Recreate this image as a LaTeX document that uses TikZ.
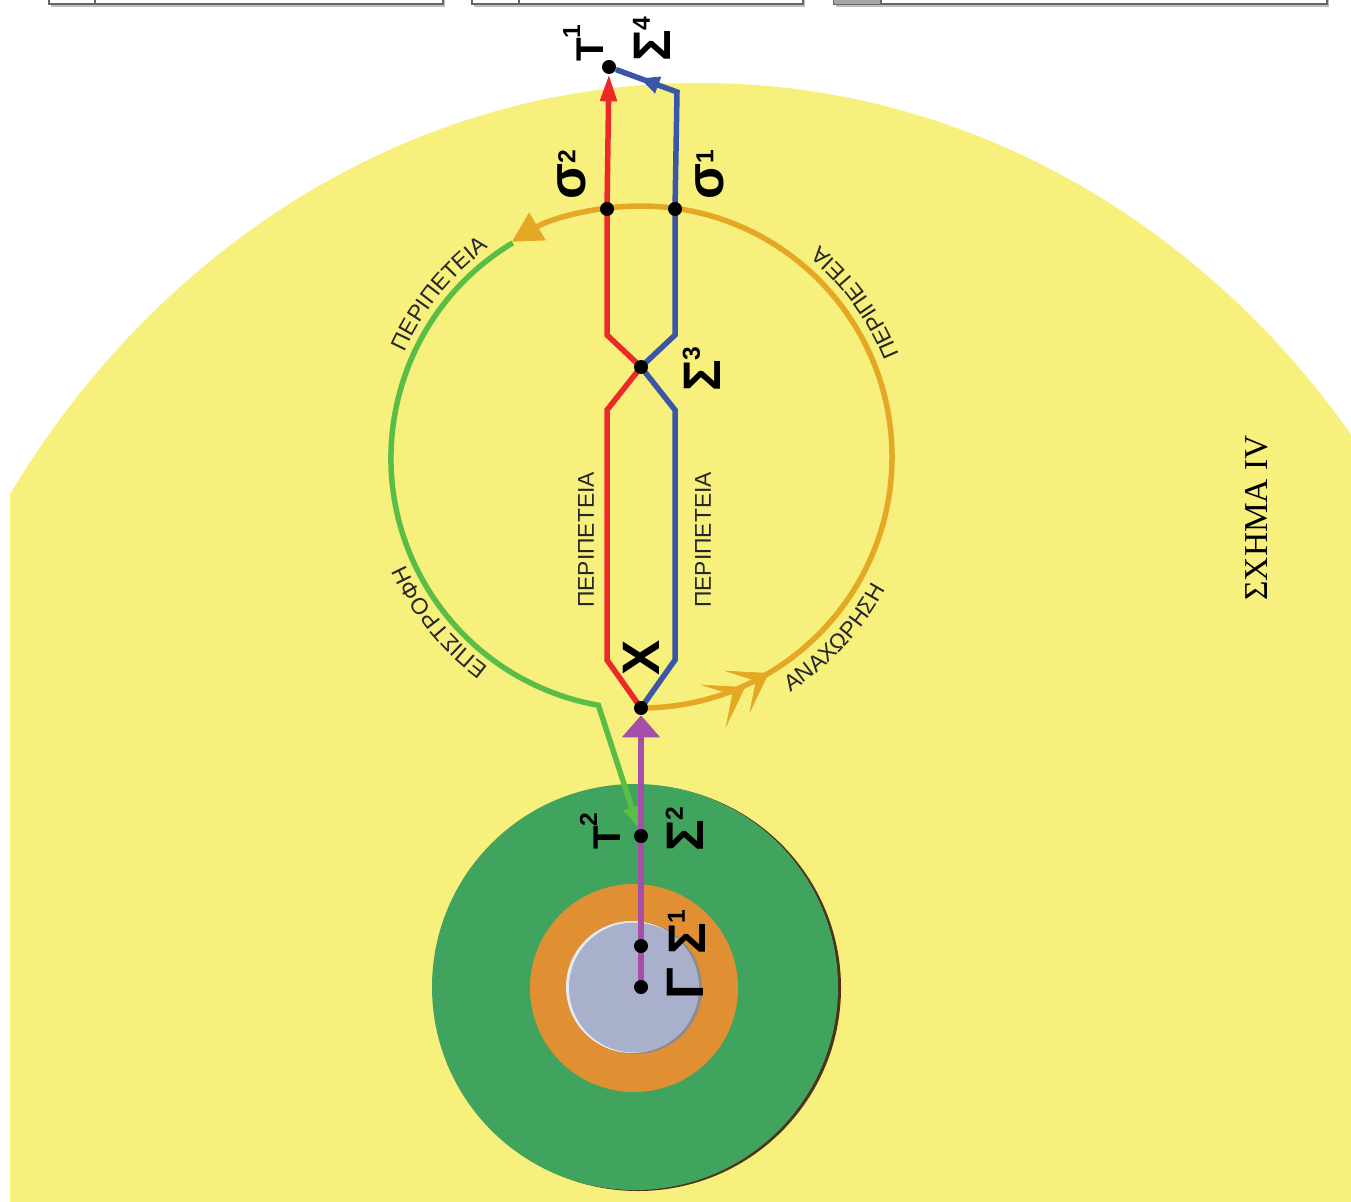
\documentclass[tikz,border=0pt]{standalone}
\usepackage{fontspec}
\setmainfont{Liberation Sans}
\newfontfamily\serf{Liberation Serif}
\usetikzlibrary{arrows.meta,decorations.text,decorations.markings}
\definecolor{bgyel}{RGB}{247,240,124}
\definecolor{dgreen}{RGB}{64,164,94}
\definecolor{oring}{RGB}{224,143,50}
\definecolor{innerc}{RGB}{168,176,204}
\definecolor{purp}{RGB}{166,78,170}
\definecolor{redl}{RGB}{237,40,40}
\definecolor{bluel}{RGB}{58,86,166}
\definecolor{goldl}{RGB}{228,168,36}
\definecolor{greenl}{RGB}{90,190,70}
\newcommand\SupBig[1]{\raisebox{11.5pt}{\fontsize{14}{14}\selectfont #1}}
\newcommand\SupLow[1]{\raisebox{5.5pt}{\fontsize{14}{14}\selectfont #1}}
\newcommand\SupT[1]{\raisebox{13pt}{\fontsize{14}{14}\selectfont #1}}
\tikzset{
  dot/.style={circle, inner sep=0pt, minimum size=0.28cm},
  lbl/.style={rotate=90, anchor=base west, inner sep=0pt, font=\fontsize{30}{30}\selectfont\bfseries},
  lblT/.style={rotate=90, anchor=base west, inner sep=0pt, font=\fontsize{22}{22}\selectfont\bfseries},
  wire/.style={line width=0.11cm},
  straightlab/.style={rotate=90, inner sep=0pt, font=\fontsize{13}{13}\selectfont, text=black!85},
  curv/.style={decorate, decoration={text along path, text align=center,
      text={|\fontsize{13}{13}\selectfont\color{black!85}|#1}}},
  boxline/.style={draw=black!60, line width=0.7pt, fill=white}
}
\begin{document}
\begin{tikzpicture}[x=0.02cm,y=0.02cm]
\useasboundingbox (0,0) rectangle (1351,-1202);
\clip (0,0) rectangle (1351,-1202);
\fill[white] (0,0) rectangle (1351,-1202);
% yellow field
\begin{scope}
  \clip (10,0) rectangle (1351,-1202);
  \fill[bgyel] (700,-1000) ellipse[x radius=827, y radius=917];
\end{scope}
% top boxes (cut off)
\foreach \a/\b/\c in {49/95/443, 472/519/803, 834/881/1327}{
  \fill[black!25] (\a+2,-7) rectangle (\c+2,5);
  \draw[boxline] (\a,-4) rectangle (\c,10);
}
\fill[black!35] (834.4,-3.6) rectangle (881,10);
\foreach \b in {95,519,881}{ \draw[black!60, line width=0.7pt] (\b,-4) -- (\b,10); }
% concentric disks
\fill[black!60!brown] (638,-988) circle[radius=203];
\fill[dgreen] (635,-987) circle[radius=203];
\fill[oring] (634,-988) circle[radius=104];
\fill[black!45] (636,-988) circle[radius=66];
\fill[white!75!innerc] (632,-987) circle[radius=66];
\fill[innerc] (634,-987.5) circle[radius=65];
% named points
\coordinate (C) at (642,-458);
\node[dot] (G) at (641,-987) {};
\node[dot] (S1) at (641,-946) {};
\node[dot] (T2) at (641,-836) {};
\node[dot] (X) at (641,-708) {};
\node[dot] (S3) at (641,-367) {};
\node[dot] (s2) at (607,-209) {};
\node[dot] (s1) at (675,-209) {};
\node[dot] (T1) at (609,-67) {};
\coordinate (rA) at (607,-660);
\coordinate (rB) at (607,-410);
\coordinate (rC) at (607,-335);
\coordinate (bA) at (675,-660);
\coordinate (bB) at (675,-410);
\coordinate (bC) at (675,-335);
\coordinate (bD) at (677,-92);
\coordinate (gS) at (512.7,-242.9);
% green return path
\draw[greenl, wire, -{Latex[length=0.45cm,width=0.4cm]}] (gS) arc[start angle=121, end angle=260, radius=251] -- (T2);
% orange circle arc
\draw[goldl, wire, -{Triangle[length=0.6cm,width=0.62cm]}] (X.center) arc[start angle=-90, end angle=121, radius=251];
\path[decorate, decoration={markings, mark=at position 0.145 with {\arrow[goldl]{Stealth[length=0.75cm,width=1.0cm,inset=0.45cm,sep=-0.2cm] Stealth[length=0.75cm,width=1.0cm,inset=0.45cm]}}}] (X.center) arc[start angle=-90, end angle=121, radius=251];
% purple
\draw[purp, wire, -{Triangle[length=0.44cm,width=0.74cm]}] (G.center) -- (X);
% blue
\draw[bluel, wire] (X.center) -- (bA) -- (bB) -- (S3.center) -- (bC) -- (s1.center) -- (bD) -- (T1);
\path[decorate, decoration={markings, mark=at position 0.6 with {\arrow[bluel]{Triangle[length=0.38cm,width=0.36cm]}}}] (bD) -- (T1);
% red
\draw[redl, wire, -{Triangle[length=0.54cm,width=0.32cm]}] (X.center) -- (rA) -- (rB) -- (S3.center) -- (rC) -- (s2.center) -- (T1);
% dots
\foreach \n in {G,S1,T2,X,S3,s2,s1,T1}{ \fill[black] (\n.center) circle[radius=7]; }
% point labels
\node[lbl] (lS4) at (670,-62) {Σ\SupBig{4}};
\node[lblT] (lT1) at (603,-62) {Τ\SupT{1}};
\node[lbl] (ls2) at (585,-200) {σ\SupLow{2}};
\node[lbl] (ls1) at (723,-200) {σ\SupLow{1}};
\node[lbl] (lS3) at (720,-392) {Σ\SupBig{3}};
\node[lblT] (lT2) at (620,-850) {Τ\SupT{2}};
\node[lbl] (lS2) at (703,-852) {Σ\SupBig{2}};
\node[lbl] (lS1) at (705,-955) {Σ\SupBig{1}};
\node[lbl] (lG) at (703,-1000) {Γ};
\node[rotate=90, inner sep=0pt, font=\fontsize{30}{30}\selectfont\bfseries] (lX) at (641,-658) {Χ};
% straight labels
\node[straightlab] (pl) at (586,-540) {ΠΕΡΙΠΕΤΕΙΑ};
\node[straightlab] (pr) at (703,-540) {ΠΕΡΙΠΕΤΕΙΑ};
% curved labels
\path[shift={(642,-458)}, curv=ΠΕΡΙΠΕΤΕΙΑ] (171:260) arc[start angle=171, end angle=111, radius=260];
\path[shift={(642,-458)}, curv=ΕΠΙΣΤΡΟΦΗ] (249:259) arc[start angle=249, end angle=189, radius=259];
\path[shift={(642,-458)}, curv=ΠΕΡΙΠΕΤΕΙΑ] (6:277) arc[start angle=6, end angle=66, radius=277];
\path[shift={(642,-458)}, curv=ΑΝΑΧΩΡΗΣΗ] (-73:277) arc[start angle=-73, end angle=-13, radius=277];
% title
\node[rotate=90, inner sep=0pt, font=\serf\fontsize{19}{19}\selectfont] (title) at (1257,-518) {ΣΧΗΜΑ IV};
\end{tikzpicture}
\end{document}
